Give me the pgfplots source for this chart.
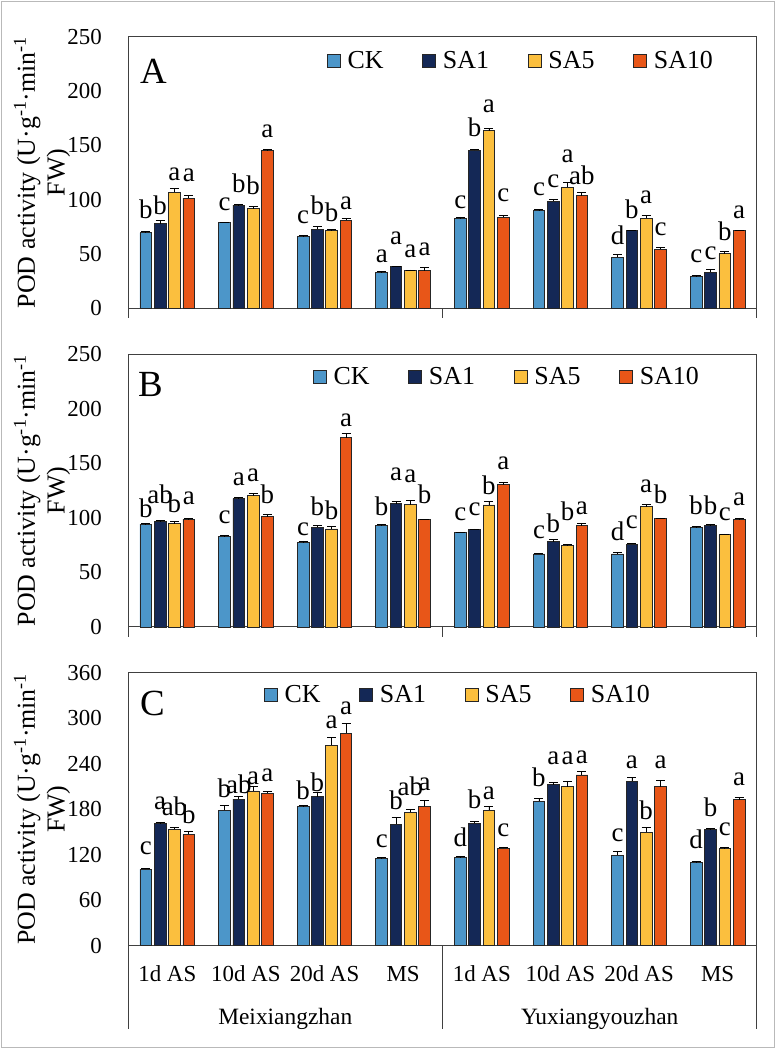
\documentclass[border=0pt]{standalone}
\usepackage{pgfplots}
\pgfplotsset{compat=1.18}
\usepackage{pgfplotstable}
\usepackage{fontspec}
\setmainfont{Liberation Serif}
\definecolor{cCK}{RGB}{76,150,201}
\definecolor{cSA1}{RGB}{20,40,86}
\definecolor{cSA5}{RGB}{251,191,62}
\definecolor{cSA10}{RGB}{232,86,24}
\definecolor{axgray}{RGB}{64,64,64}

% columns: group, value, error, letter, letter offset (per treatment)
\pgfplotstableread{
x ck eck lck ock s1 es1 ls1 o1 s5 es5 ls5 o5 s10 es10 ls10 o10
1 69.4 1.2 b 1 77.7 2.8 b -5 106.9 3.7 a -4 101.4 2.5 a 2
2 78.6 0.6 c 0 94.9 0.6 b 0 91.5 2.5 b 0 145.0 1.5 a 0
3 66.0 1.0 c 0 72.8 2.2 b 0 71.3 1.0 b -3 81.1 1.2 a -2
4 32.9 1.0 a -3 38.1 0.6 a 9 34.7 0.6 a 0 34.7 2.5 a 0
5 82.3 1.8 c -3 145.3 1.2 b 1 163.4 1.8 a 4 83.9 1.5 c 2
6 90.0 0.6 c 2 98.6 1.5 c 0 111.5 4.6 a 7 103.5 2.8 ab -3
7 47.0 2.5 d -2 71.3 0.6 b 0 83.0 2.2 a 0 54.4 1.8 c 0
8 28.9 1.0 c 1 33.2 2.5 c -2 50.1 2.2 b -1 71.3 0.6 a 0
}\dataA

\pgfplotstableread{
x ck eck lck ock s1 es1 ls1 o1 s5 es5 ls5 o5 s10 es10 ls10 o10
1 94.2 0.6 b -5 96.6 1.2 ab 4 94.8 1.8 b -3 98.8 0.6 a 2
2 82.9 0.9 c 0 117.7 1.2 a 0 120.5 1.8 a 0 101.2 1.8 b -1
3 77.4 1.5 c -6 91.4 1.5 b -2 89.9 2.1 b -4 173.4 4.0 a -5
4 93.3 0.6 b -3 113.1 1.8 a 8 112.2 3.7 a 6 98.2 0.6 b 3
5 86.5 0.6 c 0 89.3 0.6 c 1 111.9 3.0 b -4 130.6 1.8 a 1
6 67.0 0.6 c 3 78.3 1.8 b -4 74.9 0.6 b 11 93.0 2.4 a -3
7 67.0 1.2 d 0 75.8 1.2 c 2 110.1 2.1 a 0 99.4 0.6 b 2
8 91.1 0.9 b 0 92.7 1.8 b -2 84.7 0.6 c 1 98.2 1.8 a 0
}\dataB

\pgfplotstableread{
x ck eck lck ock s1 es1 ls1 o1 s5 es5 ls5 o5 s10 es10 ls10 o10
1 100.7 1.3 c 2 161.3 0.9 a 2 153.8 1.8 ab 0 146.8 4.0 b -5
2 178.5 6.6 b -6 193.4 3.1 ab -12 204.0 6.2 a -13 201.3 2.6 a -3
3 183.7 0.9 b -8 196.5 6.2 b -15 264.6 9.7 a -3 280.4 13.2 a -5
4 115.2 0.9 c -3 160.4 8.8 b -6 176.3 3.5 ab 2 184.2 7.5 a -3
5 116.0 2.2 d -3 161.3 2.2 b 2 178.9 4.4 a -6 128.4 1.8 c -2
6 190.3 4.0 b 0 212.3 2.6 a 8 209.7 7.5 a 6 225.1 4.8 a -5
7 119.6 4.4 c -2 217.1 4.4 a -3 149.5 6.2 b -5 209.7 8.8 a 0
8 110.3 0.4 d 2 153.4 0.9 b 0 127.9 1.8 c 0 192.5 2.6 a 0
}\dataC

\pgfplotsset{
  panel/.style={
    scale only axis, width=629bp,
    xmin=0.5, xmax=8.5, ymin=0,
    axis line style={axgray, line width=1bp},
    major tick length=0pt,
    xtick=\empty,
    tick style={draw=none},
    yticklabel style={font=\fontsize{23}{27}\selectfont, inner sep=0pt, xshift=-26bp},
    /pgf/number format/assume math mode=true,
    clip=false,
    legend columns=4,
    legend image code/.code={\path[draw=none, fill=none] (-32bp,0bp) -- (0bp,0bp); \draw[##1, draw=black!85, line width=0.8bp] (0bp,-6.5bp) rectangle (13bp,6.5bp);},
    legend style={draw=none, fill=none, inner sep=0pt, font=\fontsize{26}{30}\selectfont, nodes={inner xsep=7bp, inner ysep=1bp}},
    ylabel={POD activity (U·g\textsuperscript{-1}·min\textsuperscript{-1}\\FW)},
    ylabel style={at={(axis description cs:-0.1367,0.5)}, anchor=center, align=center, font=\fontsize{26}{30}\selectfont},
    every node near coord/.append style={inner sep=0pt, yshift=11.5bp, font=\fontsize{27}{31}\selectfont, text=black},
  },
  barsty/.style={ybar, bar width=0.149, bar shift=0pt, draw=black!85, line width=0.8bp,
    /pgfplots/error bars/y dir=plus, /pgfplots/error bars/y explicit,
    /pgfplots/error bars/error bar style={black, line width=0.8bp},
    /pgfplots/error bars/error mark options={black, line width=0.8bp, mark size=4.5bp, rotate=90}},
  lettersty/.style={draw=none, mark=none, forget plot, nodes near coords, point meta=explicit symbolic},
}

\newcommand\bars[1]{%
  \addplot[fill=cCK, barsty] table[x expr=\thisrow{x}-0.273, y=ck, y error=eck]{#1};
  \addplot[fill=cSA1, barsty] table[x expr=\thisrow{x}-0.091, y=s1, y error=es1]{#1};
  \addplot[fill=cSA5, barsty] table[x expr=\thisrow{x}+0.091, y=s5, y error=es5]{#1};
  \addplot[fill=cSA10, barsty] table[x expr=\thisrow{x}+0.273, y=s10, y error=es10]{#1};
  \legend{CK,SA1,SA5,SA10}
  \addplot[lettersty] table[x expr=\thisrow{x}-0.273, y expr=\thisrow{ck}+\thisrow{eck}+\thisrow{ock}, meta=lck]{#1};
  \addplot[lettersty] table[x expr=\thisrow{x}-0.091, y expr=\thisrow{s1}+\thisrow{es1}+\thisrow{o1}, meta=ls1]{#1};
  \addplot[lettersty] table[x expr=\thisrow{x}+0.091, y expr=\thisrow{s5}+\thisrow{es5}+\thisrow{o5}, meta=ls5]{#1};
  \addplot[lettersty] table[x expr=\thisrow{x}+0.273, y expr=\thisrow{s10}+\thisrow{es10}+\thisrow{o10}, meta=ls10]{#1};
}

\begin{document}
\begin{tikzpicture}
\useasboundingbox (0,0) rectangle (776bp,1049bp);
\draw[gray!55, line width=1.5bp] (1.5bp,1.5bp) rectangle (774.5bp,1047.5bp);

% Panel A
\begin{axis}[panel, at={(128bp,740.7bp)}, anchor=south west, height=271.6bp,
  ymax=250, ytick={0,50,...,250},
  legend style={at={(rel axis cs:0.2655,0.9105)}, anchor=west}]
\bars{\dataA}
\node[anchor=base west, inner sep=0pt, font=\fontsize{37}{42}\selectfont, xshift=12bp, yshift=-46.6bp] at (rel axis cs:0,1) {A};
\draw[axgray, line width=1bp] (axis cs:0.5,0) -- ++(0bp,-10bp);
\draw[axgray, line width=1bp] (axis cs:4.5,0) -- ++(0bp,-10bp);
\draw[axgray, line width=1bp] (axis cs:8.5,0) -- ++(0bp,-10bp);
\end{axis}

% Panel B
\begin{axis}[panel, at={(128bp,422bp)}, anchor=south west, height=272.7bp,
  ymax=250, ytick={0,50,...,250},
  legend style={at={(rel axis cs:0.2432,0.918)}, anchor=west}]
\bars{\dataB}
\node[anchor=base west, inner sep=0pt, font=\fontsize{37}{42}\selectfont, xshift=10bp, yshift=-42.7bp] at (rel axis cs:0,1) {B};
\draw[axgray, line width=1bp] (axis cs:0.5,0) -- ++(0bp,-10bp);
\draw[axgray, line width=1bp] (axis cs:4.5,0) -- ++(0bp,-10bp);
\draw[axgray, line width=1bp] (axis cs:8.5,0) -- ++(0bp,-10bp);
\end{axis}

% Panel C
\begin{axis}[panel, at={(128bp,103.3bp)}, anchor=south west, height=273bp,
  ymax=360, ytick={0,60,...,360},
  xtick={1,...,8},
  xticklabels={1d AS,10d AS,20d AS,MS,1d AS,10d AS,20d AS,MS},
  xticklabel style={anchor=base, yshift=-36bp, inner sep=0pt, font=\fontsize{23}{27}\selectfont},
  legend style={at={(rel axis cs:0.1653,0.918)}, anchor=west}]
\bars{\dataC}
\node[anchor=base west, inner sep=0pt, font=\fontsize{37}{42}\selectfont, xshift=12bp, yshift=-42.3bp] at (rel axis cs:0,1) {C};
\draw[axgray, line width=1bp] (axis cs:0.5,0) -- ++(0bp,-83.5bp);
\draw[axgray, line width=1bp] (axis cs:4.5,0) -- ++(0bp,-83.5bp);
\draw[axgray, line width=1bp] (axis cs:8.5,0) -- ++(0bp,-83.5bp);
\node[anchor=base, inner sep=0pt, font=\fontsize{23.5}{28}\selectfont, yshift=-79bp] at (axis cs:2.5,0) {Meixiangzhan};
\node[anchor=base, inner sep=0pt, font=\fontsize{23.5}{28}\selectfont, yshift=-79bp] at (axis cs:6.5,0) {Yuxiangyouzhan};
\end{axis}
\end{tikzpicture}
\end{document}
